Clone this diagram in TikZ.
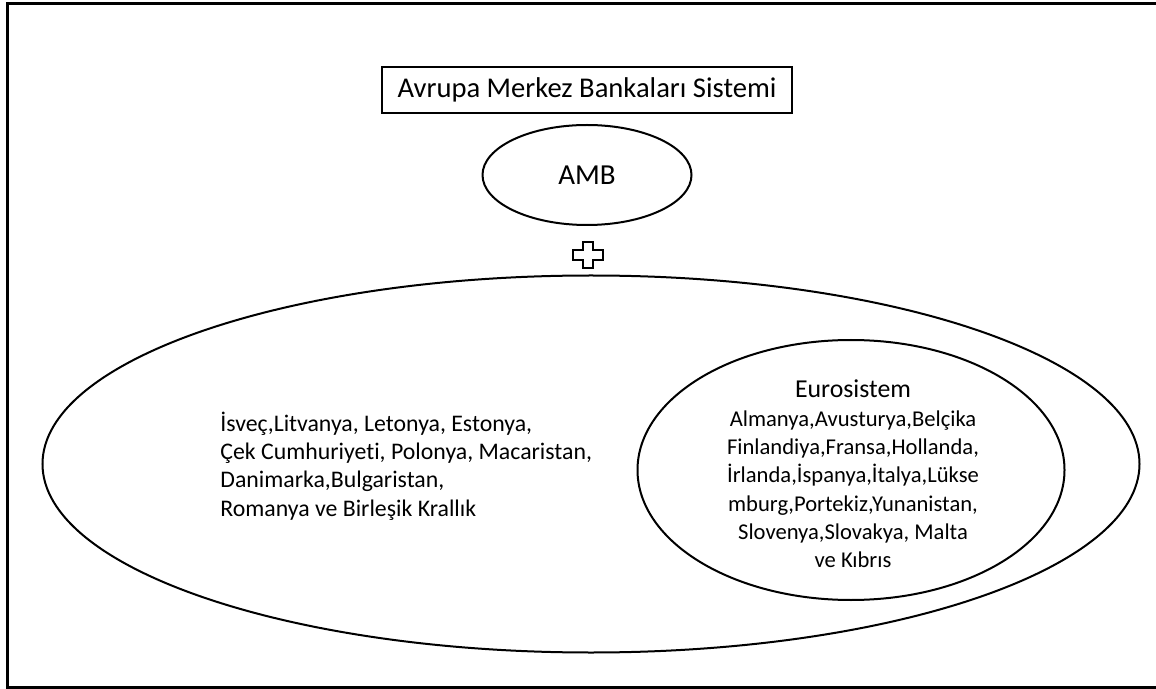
\documentclass[tikz,border=0pt]{standalone}
\usepackage{fontspec}
\setmainfont{Carlito}[Ligatures=NoCommon]
\usepackage{tikz}
\usetikzlibrary{shapes.geometric}

\tikzset{
  baslik/.style={draw,line width=1.2pt,minimum width=205pt,minimum height=23pt,inner sep=0pt,font=\fontsize{14.3}{16}\selectfont},
  halka/.style={draw,ellipse,line width=1pt,inner sep=0pt},
  yazi/.style={inner sep=0pt,font=\fontsize{11.9}{14.15}\selectfont}
}

\begin{document}
\begin{tikzpicture}[x=0.5pt,y=-0.5pt]
  \useasboundingbox (0,0) rectangle (1156,689);
  \draw[line width=1.5pt] (7,4) rectangle (1170,687);
  \node[baslik] (sistem) at (587,90) {Avrupa Merkez Bankaları Sistemi};
  \node[halka,minimum width=104.5pt,minimum height=50pt,font=\fontsize{14.5}{17}\selectfont] (amb) at (587,175) {AMB};
  % arti isareti
  \coordinate (arti) at (588,255);
  \draw[line width=1.3pt,shift={(arti)}] (-5,-13) -- (5,-13) -- (5,-5) -- (15,-5) -- (15,5) -- (5,5)
    -- (5,13) -- (-5,13) -- (-5,5) -- (-15,5) -- (-15,-5) -- (-5,-5) -- cycle;
  \node[halka,minimum width=548.5pt,minimum height=188.5pt] (ascb) at (591,464) {};
  \node[yazi,align=left,anchor=west] (digerleri) at (220,466)
    {İsveç,Litvanya, Letonya, Estonya,\\Çek Cumhuriyeti, Polonya, Macaristan,\\Danimarka,Bulgaristan,\\Romanya ve Birleşik Krallık};
  \node[halka,minimum width=213.5pt,minimum height=130pt] (euro) at (851,470) {};
  \node[yazi,align=center,font=\fontsize{11.3}{14.15}\selectfont] (uyeler) at (853,474)
    {{\fontsize{12.9}{14.15}\selectfont Eurosistem}\\Almanya,Avusturya,Belçika\\Finlandiya,Fransa,Hollanda,\\İrlanda,İspanya,İtalya,Lükse\\mburg,Portekiz,Yunanistan,\\Slovenya,Slovakya, Malta\\ve Kıbrıs};
\end{tikzpicture}
\end{document}
